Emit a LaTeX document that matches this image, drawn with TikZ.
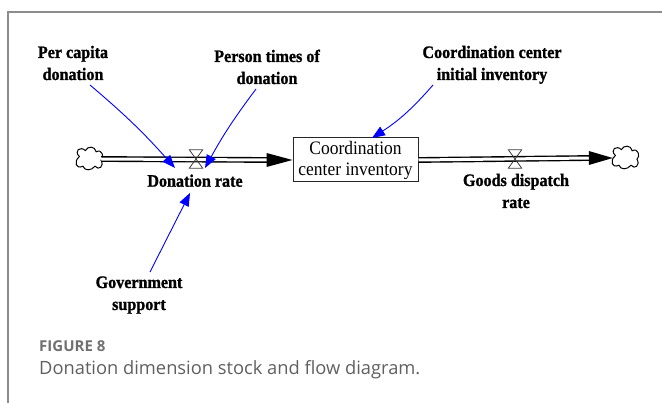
\documentclass[tikz,border=0pt]{standalone}
\usepackage{fontspec}
\usetikzlibrary{arrows.meta,calc}
\newfontfamily\lblfont[FakeStretch=0.92, BoldFeatures={FakeBold=1.2}]{Liberation Serif}
\newfontfamily\capfont{Open Sans}
\definecolor{framegray}{HTML}{8C8C8C}
\definecolor{capgray}{HTML}{606060}
\definecolor{figgray}{HTML}{707070}
\definecolor{infblue}{RGB}{0,0,255}

\tikzset{
  lbl/.style={font=\lblfont\bfseries\fontsize{17.5}{22}\selectfont,
              align=center, inner sep=0pt, anchor=base},
  stockbox/.style={draw=black!85, line width=1pt, minimum width=125pt,
              minimum height=44pt, inner sep=0pt, align=center,
              font=\lblfont\fontsize{19}{21}\selectfont},
  pipe/.style={draw=black, double=white, double distance=3pt, line width=1.4pt},
  flowhead/.style={fill=black},
  valvebox/.style={minimum width=13pt, minimum height=18pt, inner sep=0pt},
  valveline/.style={draw=black!75, line width=0.8pt, line join=miter},
  cloudbox/.style={minimum width=24pt, minimum height=20pt, inner sep=0pt},
  cloudline/.style={draw=black, line width=1pt},
  infl/.style={draw=infblue, line width=0.9pt,
              -{Triangle[length=13pt,width=10pt]}},
  pics/cloud/.style={code={
    \draw[cloudline, scale=1.2] (-8,-2) .. controls (-13,-7) and (-7,-11) .. (-3,-7)
      .. controls (-1,-11) and (5,-11) .. (6,-6)
      .. controls (11,-9) and (13,-1) .. (10,1)
      .. controls (13,6) and (8,10) .. (5,6)
      .. controls (2,10) and (-4,10) .. (-5,6)
      .. controls (-11,9) and (-13,2) .. (-8,-2) -- cycle;
  }},
}

\begin{document}
\begin{tikzpicture}[x=1pt,y=-1pt]
  \useasboundingbox (0,0) rectangle (662,403);
  \fill[white] (0,0) rectangle (662,403);

  % panel frame
  \draw[framegray, line width=2pt] (7.5,403) -- (7.5,12) -- (662,12);

  % stock, clouds and valves
  \node[stockbox] (inv) at (355.5,160) {Coordination\\center inventory};
  \node[cloudbox] (src) at (89,159) {};
  \node[cloudbox] (snk) at (625,158) {};
  \pic at (src) {cloud};
  \pic at (snk) {cloud};
  \node[valvebox] (vin) at (196,159) {};
  \node[valvebox] (vout) at (515,159) {};

  % inflow pipe
  \coordinate (inEnd) at ($(inv.west)+(-24,0)$);
  \draw[pipe] (src.east) -- (inEnd);
  \fill[flowhead] (inv.west) -- ++(-26,-7) -- ++(0,14) -- cycle;

  % outflow pipe
  \coordinate (outEnd) at ($(snk.west)+(-22,0)$);
  \draw[pipe] (inv.east) -- (outEnd);
  \fill[flowhead] (snk.west) -- ++(-24,-7) -- ++(0,14) -- cycle;

  % valves
  \draw[valveline] (vin.north west) -- (vin.north east) -- (vin.south west)
    -- (vin.south east) -- cycle;
  \draw[valveline] (vout.north west) -- (vout.north east) -- (vout.south west)
    -- (vout.south east) -- cycle;

  % labels (anchored at the baseline of their last line)
  \node[lbl] (pcd) at (73,80) {Per capita\\donation};
  \node[lbl] (ptd) at (267,84) {Person times of\\donation};
  \node[lbl] (cci) at (492,80) {Coordination center\\initial inventory};
  \node[lbl] (dr)  at (195,186.7) {Donation rate};
  \node[lbl] (gdr) at (516,208) {Goods dispatch\\rate};
  \node[lbl] (gs)  at (139,310) {Government\\support};

  % influence arrows
  \coordinate (pcdOut) at (90,85);
  \coordinate (pcdIn)  at (175,168);
  \coordinate (ptdOut) at (256,89);
  \coordinate (ptdIn)  at (205,168);
  \coordinate (cciOut) at (433,85);
  \coordinate (cciIn)  at (372,138);
  \coordinate (gsOut)  at (150,272);
  \coordinate (gsIn)   at (190,193);
  \draw[infl] (pcdOut) to[bend left=4] (pcdIn);
  \draw[infl] (ptdOut) to[bend right=4] (ptdIn);
  \draw[infl] (cciOut) to[bend left=8] (cciIn);
  \draw[infl] (gsOut) -- (gsIn);

  % caption
  \node[anchor=base west, inner sep=0pt, text=figgray,
        font=\capfont\bfseries\fontsize{15}{18}\selectfont] (fig) at (39,352) {FIGURE 8};
  \node[anchor=base west, inner sep=0pt, text=capgray,
        font=\capfont\fontsize{18.3}{22}\selectfont] (cap) at (39,375)
        {Donation dimension stock and flow diagram.};
\end{tikzpicture}
\end{document}
